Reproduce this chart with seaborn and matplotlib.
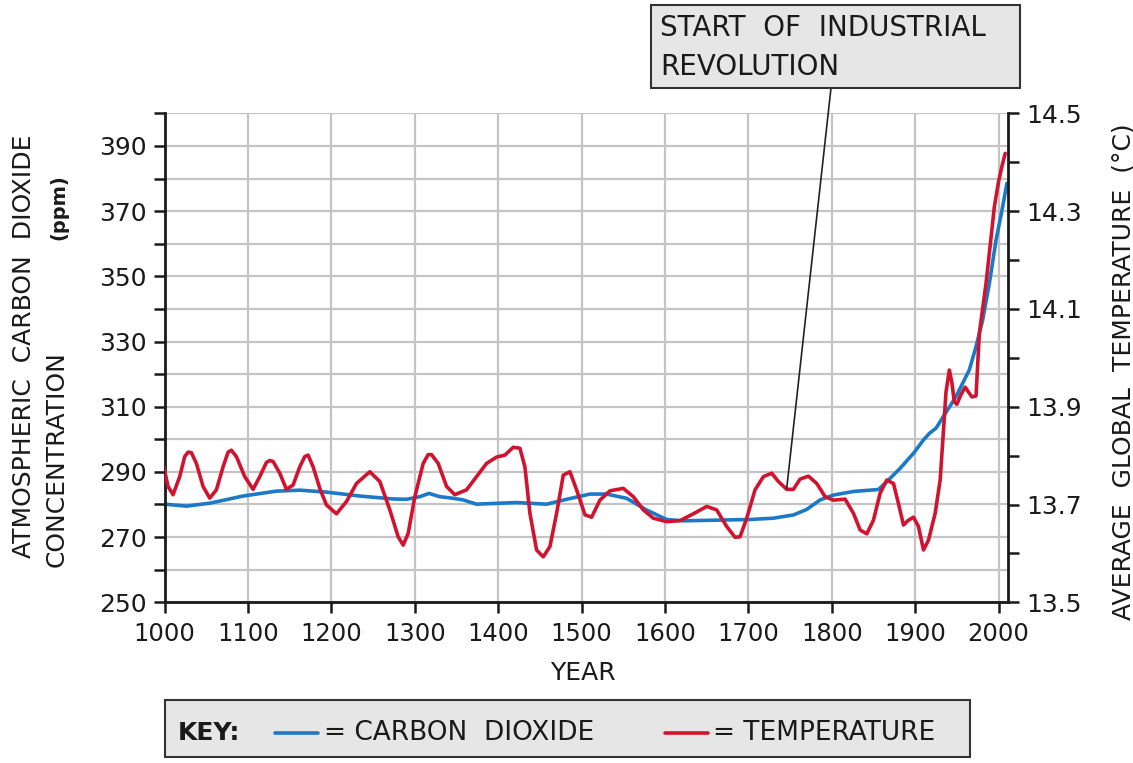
import matplotlib
matplotlib.use("Agg")
import matplotlib.pyplot as plt
from matplotlib.patches import Rectangle
from matplotlib.lines import Line2D
import seaborn as sns
import pandas as pd

# ---------------- data ----------------
co2_years = [1000, 1026, 1054, 1094, 1134, 1162, 1194, 1234, 1274, 1290, 1306, 1317,
             1330, 1346, 1358, 1374, 1422, 1458, 1482, 1510, 1530, 1554, 1578, 1602,
             1622, 1662, 1702, 1730, 1754, 1770, 1786, 1802, 1826, 1856, 1866, 1882,
             1898, 1910, 1917, 1925, 1949, 1965, 1973, 1981, 1989, 1997, 2005, 2010]
co2_ppm = [280.1, 279.5, 280.4, 282.6, 284.1, 284.4, 283.8, 282.6, 281.7, 281.6, 282.4, 283.4,
           282.4, 281.9, 281.4, 280.1, 280.6, 280.1, 281.6, 283.2, 283.2, 281.9, 278.3, 275.4,
           275.0, 275.2, 275.4, 275.8, 276.8, 278.5, 281.4, 282.9, 284.0, 284.6, 287.0, 291.1,
           295.7, 299.8, 301.8, 303.4, 313.1, 321.3, 328.4, 336.6, 347.8, 361.1, 371.4, 378.5]

temp_years = [998, 1004, 1010, 1018, 1024, 1028, 1032, 1038, 1046, 1054, 1062, 1070, 1076,
              1080, 1086, 1096, 1106, 1114, 1122, 1126, 1130, 1138, 1146, 1154, 1162, 1168,
              1172, 1178, 1186, 1194, 1206, 1218, 1230, 1246, 1258, 1270, 1280, 1286, 1292,
              1300, 1310, 1316, 1320, 1328, 1338, 1348, 1352, 1362, 1374, 1386, 1398, 1408,
              1418, 1426, 1432, 1438, 1446, 1454, 1462, 1470, 1478, 1486, 1494, 1504, 1512,
              1522, 1534, 1550, 1562, 1574, 1586, 1602, 1618, 1634, 1650, 1662, 1674, 1684,
              1690, 1698, 1708, 1718, 1728, 1736, 1746, 1754, 1762, 1772, 1782, 1792, 1802,
              1816, 1826, 1834, 1842, 1850, 1858, 1866, 1874, 1880, 1886, 1892, 1898, 1904,
              1910, 1916, 1924, 1930, 1934, 1937, 1941, 1944, 1947, 1950, 1955, 1960, 1964,
              1968, 1973, 1977, 1985, 1990, 1995, 2000, 2004, 2008]
temp_c = [13.784, 13.737, 13.720, 13.757, 13.798, 13.807, 13.806, 13.784, 13.737, 13.713,
          13.730, 13.777, 13.807, 13.811, 13.798, 13.757, 13.731, 13.757, 13.786, 13.790,
          13.788, 13.764, 13.731, 13.740, 13.777, 13.798, 13.801, 13.777, 13.733, 13.699,
          13.681, 13.706, 13.743, 13.767, 13.747, 13.689, 13.634, 13.617, 13.641, 13.716,
          13.784, 13.802, 13.802, 13.784, 13.737, 13.720, 13.723, 13.730, 13.757, 13.784,
          13.797, 13.801, 13.817, 13.815, 13.777, 13.682, 13.607, 13.593, 13.614, 13.682,
          13.760, 13.767, 13.730, 13.679, 13.674, 13.709, 13.728, 13.733, 13.716, 13.689,
          13.672, 13.665, 13.667, 13.681, 13.696, 13.689, 13.655, 13.633, 13.634, 13.672,
          13.730, 13.757, 13.764, 13.747, 13.731, 13.731, 13.752, 13.758, 13.743, 13.716,
          13.709, 13.711, 13.682, 13.648, 13.640, 13.668, 13.723, 13.750, 13.743, 13.702,
          13.658, 13.668, 13.674, 13.655, 13.607, 13.627, 13.682, 13.750, 13.852, 13.930,
          13.975, 13.950, 13.910, 13.905, 13.925, 13.940, 13.930, 13.920, 13.922, 14.050,
          14.152, 14.230, 14.309, 14.360, 14.391, 14.418]

x_ticks = [1000, 1100, 1200, 1300, 1400, 1500, 1600, 1700, 1800, 1900, 2000]
ppm_ticks = list(range(250, 401, 10))
ppm_labels = ["250", "", "270", "", "290", "", "310", "", "330", "", "350", "", "370", "", "390", ""]
temp_ticks = [13.5, 13.6, 13.7, 13.8, 13.9, 14.0, 14.1, 14.2, 14.3, 14.4, 14.5]
temp_labels = ["13.5", "", "13.7", "", "13.9", "", "14.1", "", "14.3", "", "14.5"]

co2_df = pd.DataFrame({"year": co2_years, "ppm": co2_ppm})
temp_df = pd.DataFrame({"year": temp_years, "temp": temp_c})

BLUE = "#1c79c8"
RED = "#d2132f"
GRID = "#c4c4c4"
INK = "#1a1a1a"

sns.set_theme(style="white")
plt.rcParams["font.family"] = ["DejaVu Sans"]

W, H = 1133, 763
fig = plt.figure(figsize=(W / 100, H / 100), dpi=100)

def fx(px):
    return px / W

def fy(py):
    return 1 - py / H

ax = fig.add_axes([fx(164.7), fy(602.3), (1007.7 - 164.7) / W, (602.3 - 113.3) / H])
ax2 = ax.twinx()

sns.lineplot(data=co2_df, x="year", y="ppm", ax=ax, color=BLUE, lw=2.6, estimator=None,
             solid_joinstyle="round", solid_capstyle="round")
sns.lineplot(data=temp_df, x="year", y="temp", ax=ax2, color=RED, lw=2.6, estimator=None,
             solid_joinstyle="round", solid_capstyle="round")

ax.set_xlim(1000, 2011)
ax.set_ylim(250, 400)
ax2.set_ylim(13.5, 14.5)

ax.set_xticks(x_ticks)
ax.set_xticklabels([str(v) for v in x_ticks])
ax.set_yticks(ppm_ticks)
ax.set_yticklabels(ppm_labels)
ax2.set_yticks(temp_ticks)
ax2.set_yticklabels(temp_labels)

ax.grid(True, color=GRID, lw=1.6)
ax.set_axisbelow(True)
ax.set_xlabel("")
ax.set_ylabel("")
ax2.set_ylabel("")

for a in (ax, ax2):
    for s in a.spines.values():
        s.set_visible(False)
ax.spines["left"].set_visible(True)
ax.spines["bottom"].set_visible(True)
ax2.spines["right"].set_visible(True)
for s in (ax.spines["left"], ax.spines["bottom"], ax2.spines["right"]):
    s.set_color(INK)
    s.set_linewidth(2)

ax.tick_params(axis="both", direction="out", length=8, width=1.8, color=INK,
               labelcolor=INK, labelsize=18, left=True, bottom=True, pad=5)
ax.tick_params(axis="x", labelsize=17.5, pad=6)
ax2.tick_params(axis="y", direction="out", length=8, width=1.8, color=INK,
                labelcolor=INK, labelsize=18, right=True, pad=5)

# axis titles
fig.text(fx(24), fy(346), "ATMOSPHERIC  CARBON  DIOXIDE", rotation=90,
         ha="center", va="center", fontsize=18, color=INK)
fig.text(fx(57), fy(459), "CONCENTRATION", rotation=90,
         ha="center", va="center", fontsize=18, color=INK)
fig.text(fx(59), fy(207), "(ppm)", rotation=90,
         ha="center", va="center", fontsize=14, fontweight="bold", color=INK)
fig.text(fx(1123), fy(372), "AVERAGE  GLOBAL  TEMPERATURE  (°C)", rotation=90,
         ha="center", va="center", fontsize=18, color=INK)
fig.text(fx(583), fy(673), "YEAR", ha="center", va="center", fontsize=18, color=INK)

# annotation box
fig.patches.append(Rectangle((fx(651), fy(88)), (1020 - 651) / W, (88 - 5) / H,
                             transform=fig.transFigure, facecolor="#e6e6e6",
                             edgecolor="#333333", lw=1.5, zorder=5))
fig.text(fx(660), fy(28), "START  OF  INDUSTRIAL", ha="left", va="center",
         fontsize=20, color=INK, zorder=6)
fig.text(fx(660), fy(67), "REVOLUTION", ha="left", va="center",
         fontsize=20, color=INK, zorder=6)
ax2.annotate("", xy=(1746, 285), xycoords=ax.transData,
             xytext=(fx(831), fy(88)), textcoords="figure fraction",
             arrowprops=dict(arrowstyle="-", color="#222222", lw=1.2,
                             shrinkA=0, shrinkB=0),
             annotation_clip=False)

# key box
fig.patches.append(Rectangle((fx(165), fy(757)), (970 - 165) / W, (757 - 700) / H,
                             transform=fig.transFigure, facecolor="#e6e6e6",
                             edgecolor="#333333", lw=1.5, zorder=5))
fig.text(fx(178), fy(733), "KEY:", ha="left", va="center", fontsize=18,
         fontweight="bold", color=INK, zorder=6)
fig.lines.append(Line2D([fx(275), fx(318)], [fy(733), fy(733)], transform=fig.transFigure,
                        color=BLUE, lw=2.6, zorder=6))
fig.text(fx(324), fy(733), "= CARBON  DIOXIDE", ha="left", va="center", fontsize=19,
         color=INK, zorder=6)
fig.lines.append(Line2D([fx(665), fx(708)], [fy(733), fy(733)], transform=fig.transFigure,
                        color=RED, lw=2.6, zorder=6))
fig.text(fx(713), fy(733), "= TEMPERATURE", ha="left", va="center", fontsize=19,
         color=INK, zorder=6)

fig.savefig("out.png", dpi=100)
